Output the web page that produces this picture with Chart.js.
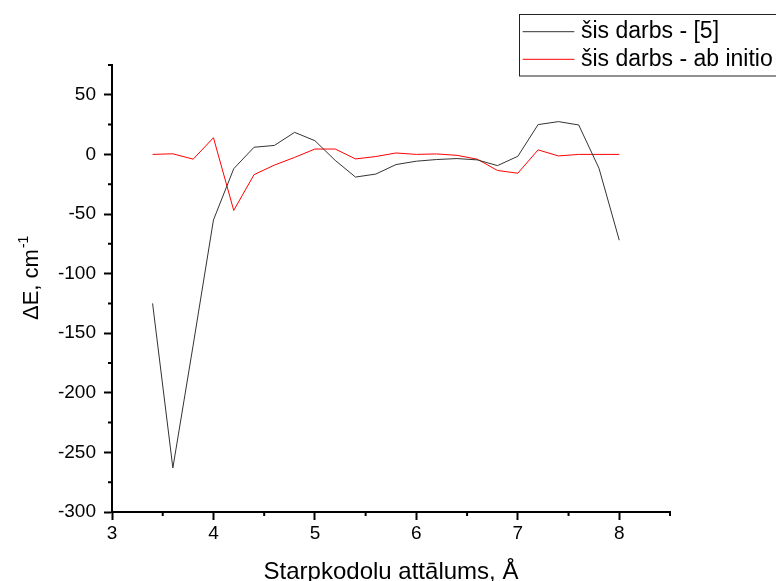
<!DOCTYPE html>
<html>
<head>
<meta charset="utf-8">
<script src="https://cdn.jsdelivr.net/npm/chart.js@4"></script>
<style>
  html, body { margin: 0; padding: 0; background: #fff; }
  #wrap { position: relative; width: 776px; height: 581px; }
</style>
</head>
<body>
<div id="wrap"><canvas id="chart-de"></canvas></div>
<script>
const FONT = "'Liberation Sans', Arial, sans-serif";

// Starpkodolu attālums, Å
const distances = [3.4, 3.6, 3.8, 4.0, 4.2, 4.4, 4.6, 4.8, 5.0, 5.2, 5.4, 5.6,
                   5.8, 6.0, 6.2, 6.4, 6.6, 6.8, 7.0, 7.2, 7.4, 7.6, 7.8, 8.0];
// ΔE, cm-1
const darbs5 = [-125, -263, -160, -55, -12, 6, 7.5, 18.5, 11.5, -5, -19, -16.5,
                -8.5, -5.7, -4.3, -3.5, -4.6, -9.4, -1.6, 25, 27.5, 24.7, -11.6, -72];
const abInitio = [0, 0.5, -4, 14, -47, -17, -9, -2.5, 4.5, 4.5, -3.8, -1.8,
                  1.2, 0, 0.4, -0.8, -4, -13.5, -15.8, 3.8, -1.3, 0, 0, 0];
const seriesLabels = ['šis darbs - [5]', 'šis darbs - ab initio'];

const xMajor = [3, 4, 5, 6, 7, 8];
const yMajor = [-300, -250, -200, -150, -100, -50, 0, 50];

const toPoints = ys => distances.map((d, i) => ({ x: d, y: ys[i] }));

// minor ticks halfway between the major ones, plus the axis title with superscript
const axisExtras = {
  id: 'axisExtras',
  afterDraw(chart) {
    const { ctx, scales: { x, y } } = chart;
    ctx.save();
    ctx.strokeStyle = '#000';
    ctx.lineWidth = 2;
    ctx.beginPath();
    for (let v = -275; v <= 75; v += 50) {
      const py = y.getPixelForValue(v);
      ctx.moveTo(x.left - 4, py); ctx.lineTo(x.left, py);
    }
    for (let v = 3.5; v <= 8.5; v += 1) {
      const px = x.getPixelForValue(v);
      ctx.moveTo(px, y.bottom); ctx.lineTo(px, y.bottom + 4);
    }
    ctx.stroke();

    // y title
    ctx.fillStyle = '#000';
    ctx.translate(38, 320);
    ctx.rotate(-Math.PI / 2);
    ctx.textAlign = 'left';
    ctx.textBaseline = 'alphabetic';
    ctx.font = `22px ${FONT}`;
    const main = 'ΔE, cm';
    ctx.fillText(main, 0, 0);
    const w = ctx.measureText(main).width;
    ctx.font = `14px ${FONT}`;
    ctx.fillText('-1', w + 1, -10);
    ctx.restore();
  }
};

const boxLegend = {
  id: 'boxLegend',
  afterDraw(chart) {
    const { ctx } = chart;
    ctx.save();
    ctx.strokeStyle = '#222';
    ctx.lineWidth = 1;
    ctx.strokeRect(519.5, 14.5, 300, 61.5);
    ctx.font = `23px ${FONT}`;
    ctx.fillStyle = '#000';
    ctx.textBaseline = 'alphabetic';
    chart.data.datasets.forEach((ds, i) => {
      const ly = 31.7 + i * 27.6;
      ctx.strokeStyle = ds.borderColor;
      ctx.beginPath();
      ctx.moveTo(522.7, ly); ctx.lineTo(574.3, ly);
      ctx.stroke();
      ctx.fillText(ds.label, 581, ly + 6.2);
    });
    ctx.restore();
  }
};

const ctx = document.getElementById('chart-de').getContext('2d');
new Chart(ctx, {
  type: 'line',
  data: {
    datasets: [
      {
        label: seriesLabels[0], data: toPoints(darbs5),
        borderColor: '#333333', borderWidth: 1, pointRadius: 0, tension: 0
      },
      {
        label: seriesLabels[1], data: toPoints(abInitio),
        borderColor: '#ff0000', borderWidth: 1, pointRadius: 0, tension: 0
      }
    ]
  },
  options: {
    responsive: true,
    maintainAspectRatio: false,
    animation: false,
    layout: { padding: { top: 65, right: 106, left: 0, bottom: 0 } },
    plugins: { legend: { display: false }, tooltip: { enabled: false } },
    scales: {
      x: {
        type: 'linear', min: 3, max: 8.5,
        afterFit: s => { s.height = 69; },
        afterBuildTicks: s => { s.ticks = xMajor.map(v => ({ value: v })); },
        grid: { drawOnChartArea: false, drawTicks: true, tickLength: 8, tickWidth: 2, tickColor: '#000' },
        border: { color: '#000', width: 2 },
        ticks: { color: '#000', padding: 2, maxRotation: 0, font: { size: 19, family: FONT } },
        title: {
          display: true, text: 'Starpkodolu attālums, Å', color: '#000',
          font: { size: 24, family: FONT, lineHeight: 1 }, padding: { top: 0, bottom: -3 }
        }
      },
      y: {
        type: 'linear', min: -300, max: 75,
        afterFit: s => { s.width = 112; },
        afterBuildTicks: s => { s.ticks = yMajor.map(v => ({ value: v })); },
        grid: { drawOnChartArea: false, drawTicks: true, tickLength: 8, tickWidth: 2, tickColor: '#000' },
        border: { color: '#000', width: 2 },
        ticks: { color: '#000', padding: 8, font: { size: 19, family: FONT } }
      }
    }
  },
  plugins: [axisExtras, boxLegend]
});
</script>
</body>
</html>
